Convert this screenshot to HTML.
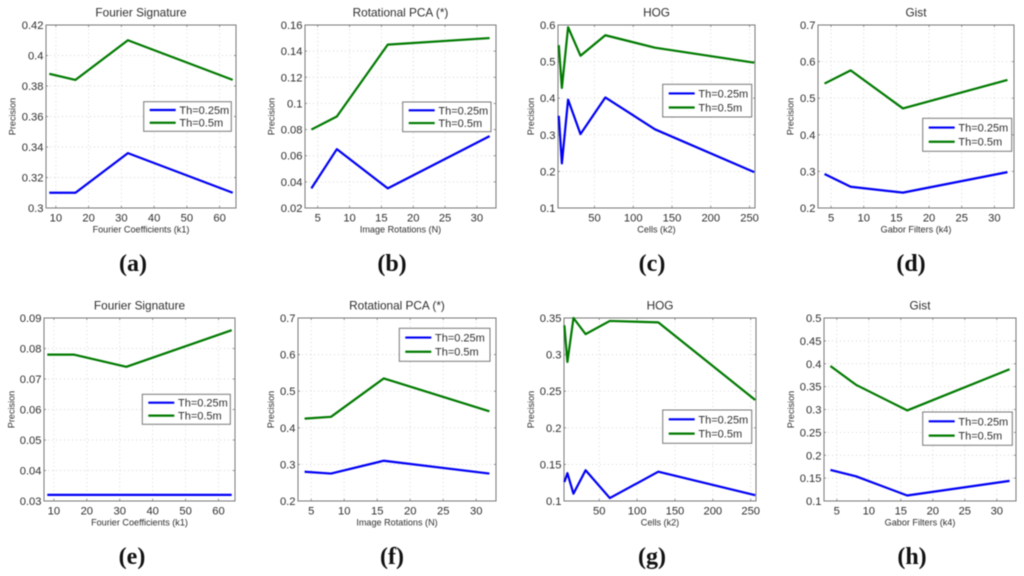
<!DOCTYPE html>
<html lang="en">
<head>
<meta charset="utf-8">
<title>Precision charts</title>
<style>
html,body{margin:0;padding:0;background:#fff;}
#fig{display:block;filter:blur(0.5px);}
text{font-family:"Liberation Sans",sans-serif;fill:#2e2e2e;}
.cap{font-family:"Liberation Serif",serif;fill:#111;font-weight:bold;}
</style>
</head>
<body>
<svg id="fig" xmlns="http://www.w3.org/2000/svg" width="1024" height="576" viewBox="0 0 1024 576"></svg>
<script>
var seriesNames = ['Th=0.25m', 'Th=0.5m'];

var aTitle = 'Fourier Signature';
var aXLabel = 'Fourier Coefficients (k1)';
var aX = [8, 16, 32, 64];
var aBlue = [0.31, 0.31, 0.336, 0.31];
var aGreen = [0.388, 0.384, 0.41, 0.384];
var aXTicks = [10, 20, 30, 40, 50, 60];
var aYTicks = [0.3, 0.32, 0.34, 0.36, 0.38, 0.4, 0.42];

var bTitle = 'Rotational PCA (*)';
var bXLabel = 'Image Rotations (N)';
var bX = [4, 8, 16, 32];
var bBlue = [0.035, 0.065, 0.035, 0.075];
var bGreen = [0.08, 0.09, 0.145, 0.15];
var bXTicks = [5, 10, 15, 20, 25, 30];
var bYTicks = [0.02, 0.04, 0.06, 0.08, 0.1, 0.12, 0.14, 0.16];

var cTitle = 'HOG';
var cXLabel = 'Cells (k2)';
var cX = [4, 8, 16, 32, 64, 128, 256];
var cBlue = [0.352, 0.222, 0.396, 0.302, 0.402, 0.315, 0.198];
var cGreen = [0.545, 0.428, 0.594, 0.516, 0.572, 0.538, 0.497];
var cXTicks = [50, 100, 150, 200, 250];
var cYTicks = [0.1, 0.2, 0.3, 0.4, 0.5, 0.6];

var dTitle = 'Gist';
var dXLabel = 'Gabor Filters (k4)';
var dX = [4, 8, 16, 32];
var dBlue = [0.293, 0.258, 0.242, 0.298];
var dGreen = [0.54, 0.576, 0.472, 0.55];
var dXTicks = [5, 10, 15, 20, 25, 30];
var dYTicks = [0.2, 0.3, 0.4, 0.5, 0.6, 0.7];

var eTitle = 'Fourier Signature';
var eXLabel = 'Fourier Coefficients (k1)';
var eX = [8, 16, 32, 64];
var eBlue = [0.032, 0.032, 0.032, 0.032];
var eGreen = [0.078, 0.078, 0.074, 0.086];
var eXTicks = [10, 20, 30, 40, 50, 60];
var eYTicks = [0.03, 0.04, 0.05, 0.06, 0.07, 0.08, 0.09];

var fTitle = 'Rotational PCA (*)';
var fXLabel = 'Image Rotations (N)';
var fX = [4, 8, 16, 32];
var fBlue = [0.28, 0.275, 0.31, 0.275];
var fGreen = [0.425, 0.43, 0.535, 0.445];
var fXTicks = [5, 10, 15, 20, 25, 30];
var fYTicks = [0.2, 0.3, 0.4, 0.5, 0.6, 0.7];

var gTitle = 'HOG';
var gXLabel = 'Cells (k2)';
var gX = [4, 8, 16, 32, 64, 128, 256];
var gBlue = [0.126, 0.138, 0.11, 0.142, 0.104, 0.14, 0.108];
var gGreen = [0.34, 0.29, 0.35, 0.328, 0.346, 0.344, 0.238];
var gXTicks = [50, 100, 150, 200, 250];
var gYTicks = [0.1, 0.15, 0.2, 0.25, 0.3, 0.35];

var hTitle = 'Gist';
var hXLabel = 'Gabor Filters (k4)';
var hX = [4, 8, 16, 32];
var hBlue = [0.168, 0.154, 0.112, 0.144];
var hGreen = [0.395, 0.354, 0.298, 0.388];
var hXTicks = [5, 10, 15, 20, 25, 30];
var hYTicks = [0.1, 0.15, 0.2, 0.25, 0.3, 0.35, 0.4, 0.45, 0.5];

var panels = [
  {id:'a',title:aTitle,xl:aXLabel,x:aX,b:aBlue,g:aGreen,xt:aXTicks,yt:aYTicks,dom:[7,65],box:[46,25,236,208],leg:[143.7,101.7,231.3,131.3],yl:12.5,cap:133},
  {id:'b',title:bTitle,xl:bXLabel,x:bX,b:bBlue,g:bGreen,xt:bXTicks,yt:bYTicks,dom:[3,33],box:[305,25,496,208],leg:[402.7,102,491,131.7],yl:271.7,cap:392},
  {id:'c',title:cTitle,xl:cXLabel,x:cX,b:cBlue,g:cGreen,xt:cXTicks,yt:cYTicks,dom:[3,257],box:[558,25,755,208],leg:[662.7,84.3,751.7,117],yl:531,cap:652},
  {id:'d',title:dTitle,xl:dXLabel,x:dX,b:dBlue,g:dGreen,xt:dXTicks,yt:dYTicks,dom:[3,33],box:[818,25,1014,208],leg:[922.7,118.3,1011.7,151.3],yl:790.7,cap:911},
  {id:'e',title:eTitle,xl:eXLabel,x:eX,b:eBlue,g:eGreen,xt:eXTicks,yt:eYTicks,dom:[7,65],box:[44,318,235,501],leg:[142.3,394.3,230.3,424.3],yl:11.3,cap:132},
  {id:'f',title:fTitle,xl:fXLabel,x:fX,b:fBlue,g:fGreen,xt:fXTicks,yt:fYTicks,dom:[3,33],box:[298,318,496,501],leg:[399.3,328.3,490,361.3],yl:271,cap:392},
  {id:'g',title:gTitle,xl:gXLabel,x:gX,b:gBlue,g:gGreen,xt:gXTicks,yt:gYTicks,dom:[3.5,257],box:[564,318,756,501],leg:[662.7,410,751.7,443.3],yl:531,cap:652},
  {id:'h',title:hTitle,xl:hXLabel,x:hX,b:hBlue,g:hGreen,xt:hXTicks,yt:hYTicks,dom:[3,33],box:[824,318,1016,501],leg:[922.7,412,1012.3,445.3],yl:791,cap:912}
];

var NS = 'http://www.w3.org/2000/svg';
var fig = document.getElementById('fig');

function mk(tag, attrs, parent, txt) {
  var el = document.createElementNS(NS, tag);
  for (var k in attrs) el.setAttribute(k, attrs[k]);
  if (txt !== undefined) el.textContent = txt;
  parent.appendChild(el);
  return el;
}

function drawPanel(p) {
  var L = p.box[0], T = p.box[1], R = p.box[2], B = p.box[3];
  var yMin = p.yt[0], yMax = p.yt[p.yt.length - 1];
  function sx(v) { return L + (v - p.dom[0]) / (p.dom[1] - p.dom[0]) * (R - L); }
  function sy(v) { return B - (v - yMin) / (yMax - yMin) * (B - T); }

  var g = mk('g', {}, fig);
  
  

  var bg = mk('rect', {x:L, y:T, width:R-L, height:B-T, fill:'#fff'}, g);
  
  

  p.xt.forEach(function (t) {
    var X = sx(t);
    var gl = mk('line', {x1:X, x2:X, y1:T, y2:B, stroke:'#c8c8c8', 'stroke-width':0.7, 'stroke-dasharray':'1 3'}, g);
    
    
    mk('line', {x1:X, x2:X, y1:B, y2:B-2, stroke:'#666', 'stroke-width':0.7}, g);
    mk('line', {x1:X, x2:X, y1:T, y2:T+2, stroke:'#666', 'stroke-width':0.7}, g);
    var lb = mk('text', {x:X, y:B+13.5, 'font-size':11.2, 'text-anchor':'middle'}, g, String(t));
    
    
  });

  p.yt.forEach(function (t) {
    var Y = sy(t);
    var gl = mk('line', {x1:L, x2:R, y1:Y, y2:Y, stroke:'#c8c8c8', 'stroke-width':0.7, 'stroke-dasharray':'1 3'}, g);
    
    
    mk('line', {x1:L, x2:L+2, y1:Y, y2:Y, stroke:'#666', 'stroke-width':0.7}, g);
    mk('line', {x1:R, x2:R-2, y1:Y, y2:Y, stroke:'#666', 'stroke-width':0.7}, g);
    var lb = mk('text', {x:L-2.5, y:Y+4, 'font-size':11.2, 'text-anchor':'end'}, g, String(t));
    
    
  });

  var frame = mk('rect', {x:L, y:T, width:R-L, height:B-T, fill:'none', stroke:'#777', 'stroke-width':1}, g);
  
  

  function pts(ys) {
    return ys.map(function (v, i) { return sx(p.x[i]).toFixed(2) + ',' + sy(v).toFixed(2); }).join(' ');
  }
  var lineB = mk('polyline', {points:pts(p.b), fill:'none', stroke:'#0000f5', 'stroke-width':2.2, 'stroke-linejoin':'round'}, g);
  
  
  var lineG = mk('polyline', {points:pts(p.g), fill:'none', stroke:'#007a00', 'stroke-width':2.2, 'stroke-linejoin':'round'}, g);
  
  

  var t = mk('text', {x:(L+R)/2, y:T-8.5, 'font-size':11.8, 'text-anchor':'middle'}, g, p.title);
  
  

  var xl = mk('text', {x:(L+R)/2, y:B+24.3, 'font-size':9.1, 'text-anchor':'middle'}, g, p.xl);
  
  

  var yc = (T+B)/2;
  var yl = mk('text', {x:p.yl+3, y:yc, 'font-size':9.1, 'text-anchor':'middle', transform:'rotate(-90 '+(p.yl+3)+' '+yc+')'}, g, 'Precision');
  
  

  var lg = mk('g', {}, g);
  
  
  var lx0 = p.leg[0], ly0 = p.leg[1], lx1 = p.leg[2], ly1 = p.leg[3];
  mk('rect', {x:lx0, y:ly0, width:lx1-lx0, height:ly1-ly0, fill:'#fff', stroke:'#777', 'stroke-width':1}, lg);
  var lh = ly1 - ly0;
  [['#0000f5', 0.28], ['#007a00', 0.71]].forEach(function (s, i) {
    var yy = ly0 + lh * s[1];
    var ln = mk('line', {x1:lx0+6, x2:lx0+32, y1:yy, y2:yy, stroke:s[0], 'stroke-width':2.2}, lg);
    
    
    var tx = mk('text', {x:lx0+35.7, y:yy+4, 'font-size':11}, lg, seriesNames[i]);
    
    
  });

  var capY = T < 100 ? 271 : 564;
  var cap = mk('text', {x:p.cap, y:capY, 'font-size':24, 'text-anchor':'middle', 'class':'cap'}, g, '(' + p.id + ')');
  
  
}

panels.forEach(drawPanel);
</script>
</body>
</html>
